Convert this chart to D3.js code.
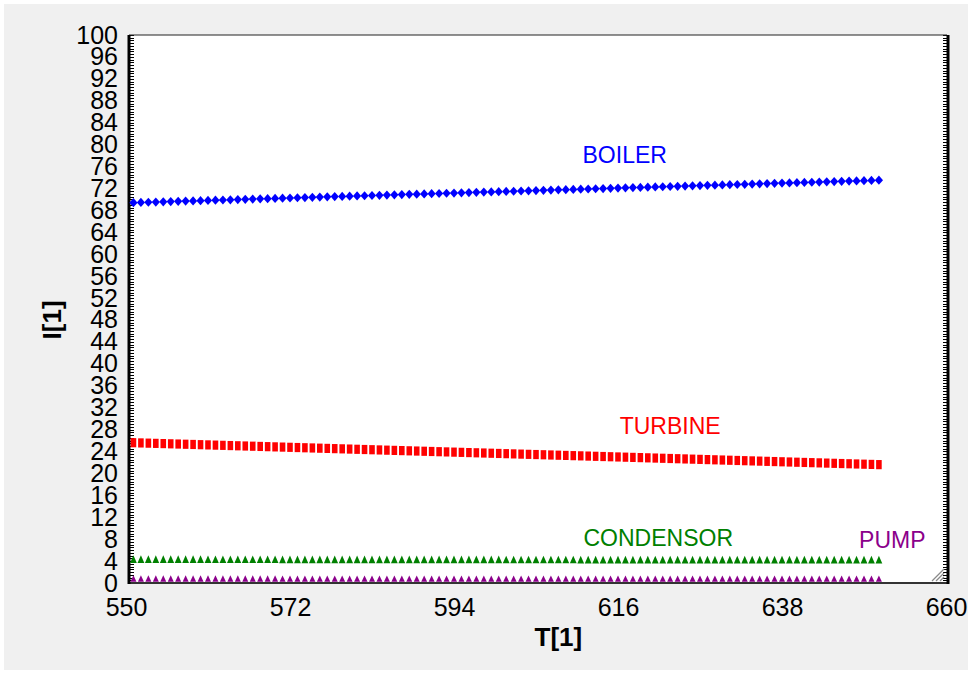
<!DOCTYPE html>
<html>
<head>
<meta charset="utf-8">
<script src="https://cdn.jsdelivr.net/npm/d3@7"></script>
<style>
  html, body { margin: 0; padding: 0; background: #ffffff; }
  svg { display: block; }
</style>
</head>
<body>
<svg id="chart" width="972" height="674"></svg>
<script>
// Temperature values T[1] shared by every series
const temperature = [
  551,552,553,554,555,556,557,558,559,560,
  561,562,563,564,565,566,567,568,569,570,
  571,572,573,574,575,576,577,578,579,580,
  581,582,583,584,585,586,587,588,589,590,
  591,592,593,594,595,596,597,598,599,600,
  601,602,603,604,605,606,607,608,609,610,
  611,612,613,614,615,616,617,618,619,620,
  621,622,623,624,625,626,627,628,629,630,
  631,632,633,634,635,636,637,638,639,640,
  641,642,643,644,645,646,647,648,649,650,
  651
];

// Exergy destruction I[1] of each component
const boiler = [
  69.40,69.44,69.48,69.52,69.56,69.61,69.65,69.69,69.73,69.77,
  69.81,69.85,69.89,69.93,69.97,70.02,70.06,70.10,70.14,70.18,
  70.22,70.26,70.30,70.34,70.38,70.43,70.47,70.51,70.55,70.59,
  70.63,70.67,70.71,70.75,70.79,70.84,70.88,70.92,70.96,71.00,
  71.04,71.08,71.12,71.16,71.20,71.25,71.29,71.33,71.37,71.41,
  71.45,71.49,71.53,71.57,71.61,71.66,71.70,71.74,71.78,71.82,
  71.86,71.90,71.94,71.98,72.02,72.07,72.11,72.15,72.19,72.23,
  72.27,72.31,72.35,72.39,72.43,72.48,72.52,72.56,72.60,72.64,
  72.68,72.72,72.76,72.80,72.84,72.89,72.93,72.97,73.01,73.05,
  73.09,73.13,73.17,73.21,73.25,73.30,73.34,73.38,73.42,73.46,
  73.50
];

const turbine = [
  25.60,25.56,25.52,25.48,25.44,25.40,25.36,25.32,25.28,25.24,
  25.20,25.16,25.12,25.08,25.04,25.00,24.96,24.92,24.88,24.84,
  24.80,24.76,24.72,24.68,24.64,24.60,24.56,24.52,24.48,24.44,
  24.40,24.36,24.32,24.28,24.24,24.20,24.16,24.12,24.08,24.04,
  24.00,23.96,23.92,23.88,23.84,23.80,23.76,23.72,23.68,23.64,
  23.60,23.56,23.52,23.48,23.44,23.40,23.36,23.32,23.28,23.24,
  23.20,23.16,23.12,23.08,23.04,23.00,22.96,22.92,22.88,22.84,
  22.80,22.76,22.72,22.68,22.64,22.60,22.56,22.52,22.48,22.44,
  22.40,22.36,22.32,22.28,22.24,22.20,22.16,22.12,22.08,22.04,
  22.00,21.96,21.92,21.88,21.84,21.80,21.76,21.72,21.68,21.64,
  21.60
];

const condensor = [
  4.26,4.26,4.26,4.26,4.26,4.26,4.26,4.26,4.26,4.26,
  4.25,4.25,4.25,4.25,4.25,4.25,4.25,4.25,4.25,4.25,
  4.24,4.24,4.24,4.24,4.24,4.24,4.24,4.24,4.24,4.24,
  4.23,4.23,4.23,4.23,4.23,4.23,4.23,4.23,4.23,4.23,
  4.22,4.22,4.22,4.22,4.22,4.22,4.22,4.22,4.22,4.22,
  4.21,4.21,4.21,4.21,4.21,4.21,4.21,4.21,4.21,4.21,
  4.20,4.20,4.20,4.20,4.20,4.20,4.20,4.20,4.20,4.20,
  4.19,4.19,4.19,4.19,4.19,4.19,4.19,4.19,4.19,4.19,
  4.18,4.18,4.18,4.18,4.18,4.18,4.18,4.18,4.18,4.18,
  4.17,4.17,4.17,4.17,4.17,4.17,4.17,4.17,4.17,4.17,
  4.17
];

const pump = [
  0.78,0.78,0.78,0.78,0.78,0.78,0.78,0.78,0.78,0.78,
  0.78,0.78,0.78,0.78,0.78,0.78,0.78,0.78,0.78,0.78,
  0.77,0.77,0.77,0.77,0.77,0.77,0.77,0.77,0.77,0.77,
  0.77,0.77,0.77,0.77,0.77,0.77,0.77,0.77,0.77,0.77,
  0.76,0.76,0.76,0.76,0.76,0.76,0.76,0.76,0.76,0.76,
  0.76,0.76,0.76,0.76,0.76,0.76,0.76,0.76,0.76,0.76,
  0.75,0.75,0.75,0.75,0.75,0.75,0.75,0.75,0.75,0.75,
  0.75,0.75,0.75,0.75,0.75,0.75,0.75,0.75,0.75,0.75,
  0.74,0.74,0.74,0.74,0.74,0.74,0.74,0.74,0.74,0.74,
  0.74,0.74,0.74,0.74,0.74,0.74,0.74,0.74,0.74,0.74,
  0.74
];

const xTicks = [550, 572, 594, 616, 638, 660];
const yTicks = [0,4,8,12,16,20,24,28,32,36,40,44,48,52,56,60,64,68,72,76,80,84,88,92,96,100];

const seriesNames = ["BOILER", "TURBINE", "CONDENSOR", "PUMP"];
const seriesValues = [boiler, turbine, condensor, pump];
// Label anchor positions in data units (T, I): centre x, baseline y
const labelT = [616.9, 623.0, 621.4, 652.8];
const labelI = [76.6, 27.2, 6.75, 6.4];

const colors = ["#0000ff", "#ff0000", "#008000", "#8b008b"];
// Marker outline shapes drawn around each point
const shapes = [
  "M0,-4.6L4.1,0L0,4.6L-4.1,0Z",       // diamond
  "M-2.8,-4.6H2.8V4.6H-2.8Z",          // tall square
  "M0,-4.3L3.4,3.4H-3.4Z",             // triangle
  "M0,-3.4L3.0,2.9H-3.0Z"              // small triangle
];

const svg = d3.select("#chart");
const W = 972, H = 674;
const frame = { left: 129, right: 947, top: 35, bottom: 583 };

// Panel background
svg.append("rect").attr("x", 0).attr("y", 0).attr("width", W).attr("height", H).attr("fill", "#ffffff");
svg.append("rect").attr("x", 4).attr("y", 4).attr("width", W - 8).attr("height", H - 8).attr("fill", "#f0f0f0");

const x = d3.scaleLinear().domain([550, 660]).range([126, 946]);
const y = d3.scaleLinear().domain([0, 100]).range([frame.bottom, frame.top]);

// Plot area
svg.append("rect")
  .attr("x", frame.left).attr("y", frame.top)
  .attr("width", frame.right - frame.left).attr("height", frame.bottom - frame.top)
  .attr("fill", "#ffffff");

const font = "'Liberation Sans', Arial, sans-serif";

// Y axis labels
const yAxis = d3.axisLeft(y).tickValues(yTicks).tickSize(0).tickPadding(11).tickFormat(d3.format("d"));
svg.append("g")
  .attr("transform", `translate(${frame.left},0)`)
  .call(yAxis)
  .call(g => g.select(".domain").remove())
  .call(g => g.selectAll("text").attr("font-family", font).attr("font-size", 25).attr("fill", "#000"));

// X axis labels
const xAxis = d3.axisBottom(x).tickValues(xTicks).tickSize(0).tickPadding(15).tickFormat(d3.format("d"));
svg.append("g")
  .attr("transform", `translate(0,${frame.bottom})`)
  .call(xAxis)
  .call(g => g.select(".domain").remove())
  .call(g => g.selectAll("text").attr("font-family", font).attr("font-size", 25).attr("fill", "#000"));

// Minor ticks along the inside of the left and right frame
const minor = d3.range(0, 100.01, 0.5);
const tickG = svg.append("g").attr("stroke", "#000").attr("stroke-width", 1);
tickG.selectAll("line.l").data(minor).join("line")
  .attr("x1", frame.left).attr("x2", frame.left + 5)
  .attr("y1", d => Math.round(y(d)) + 0.5).attr("y2", d => Math.round(y(d)) + 0.5);
tickG.selectAll("line.r").data(minor).join("line")
  .attr("x1", frame.right - 4).attr("x2", frame.right)
  .attr("y1", d => Math.round(y(d)) + 0.5).attr("y2", d => Math.round(y(d)) + 0.5);

// Frame
svg.append("line").attr("x1", frame.left).attr("x2", frame.right).attr("y1", frame.top).attr("y2", frame.top)
  .attr("stroke", "#222").attr("stroke-width", 1.2);
svg.append("line").attr("x1", frame.left).attr("x2", frame.right).attr("y1", frame.bottom).attr("y2", frame.bottom)
  .attr("stroke", "#333").attr("stroke-width", 2);
svg.append("line").attr("x1", frame.left).attr("x2", frame.left).attr("y1", frame.top).attr("y2", frame.bottom + 1)
  .attr("stroke", "#000").attr("stroke-width", 3);
svg.append("line").attr("x1", frame.right + 1).attr("x2", frame.right + 1).attr("y1", frame.top).attr("y2", frame.bottom + 1)
  .attr("stroke", "#000").attr("stroke-width", 3);

// Resize grip in the lower right corner
const grip = svg.append("g").attr("stroke", "#8a8a8a").attr("stroke-width", 1.3);
[4, 8, 12].forEach(o => {
  grip.append("line")
    .attr("x1", frame.right - 3 - o).attr("y1", frame.bottom - 2)
    .attr("x2", frame.right - 3).attr("y2", frame.bottom - 2 - o);
});

// Series markers
seriesValues.forEach((vals, si) => {
  svg.append("g").attr("fill", colors[si])
    .selectAll("path").data(vals).join("path")
    .attr("d", shapes[si])
    .attr("transform", (v, i) => `translate(${x(temperature[i])},${y(v)})`);
});

// Series labels
seriesNames.forEach((name, si) => {
  svg.append("text")
    .attr("x", x(labelT[si])).attr("y", y(labelI[si]))
    .attr("text-anchor", "middle")
    .attr("font-family", font).attr("font-size", 23)
    .attr("fill", colors[si])
    .text(name);
});

// Axis titles
svg.append("text")
  .attr("x", x(608)).attr("y", 646)
  .attr("text-anchor", "middle")
  .attr("font-family", font).attr("font-size", 26).attr("font-weight", "bold")
  .text("T[1]");
svg.append("text")
  .attr("transform", `translate(61,${y(48)}) rotate(-90)`)
  .attr("text-anchor", "middle")
  .attr("font-family", font).attr("font-size", 26).attr("font-weight", "bold")
  .text("I[1]");
</script>
</body>
</html>
